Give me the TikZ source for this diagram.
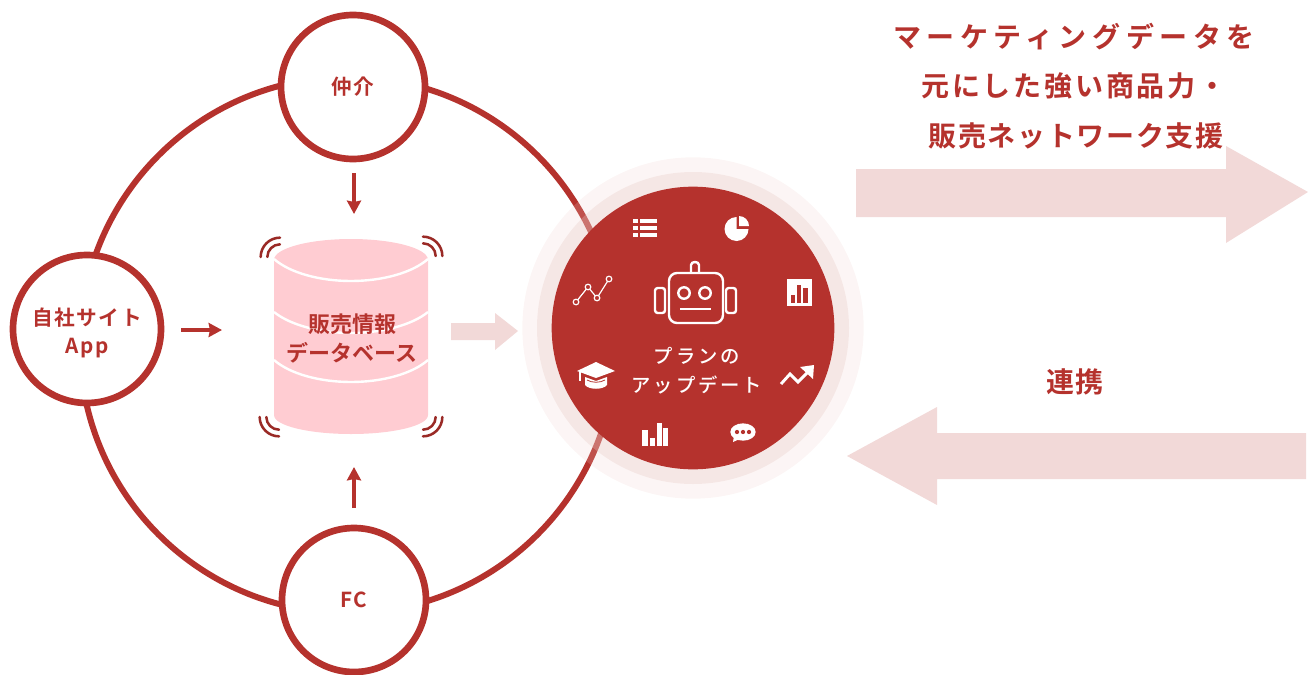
\documentclass[tikz,border=0pt]{standalone}
\usepackage{fontspec}
\setmainfont{Noto Sans CJK JP Medium}
\usetikzlibrary{arrows.meta}
\definecolor{brand}{HTML}{B5322D}
\definecolor{dbpink}{HTML}{FFCCD2}
\definecolor{palearrow}{HTML}{F2D9D8}
\definecolor{ringa}{HTML}{E7C5C3}
\definecolor{ringb}{HTML}{EFCFCB}
\newfontfamily\jpb{Noto Sans CJK JP Bold}
\newcommand{\sized}[1]{\fontsize{#1}{#1}\selectfont}
\tikzset{
 x=0.75pt,y=-0.75pt,
 ringline/.style={draw=brand,line width=4.5pt},
 member/.style={circle,draw=brand,line width=5pt,fill=white,minimum size=108pt,inner sep=0pt,align=center,text=brand,font=\jpb\sized{15.5}},
 small/.style={draw=brand,line width=2.4pt,-{Stealth[length=10pt,width=10.5pt,inset=1pt]}},
 wave/.style={draw=brand!85!black,line width=1.9pt,line cap=round},
 band/.style={draw=white,line width=1.8pt},
 wl/.style={draw=white,line width=1.8pt,line join=round},
 title/.style={text=brand,inner sep=0pt,font=\jpb\sized{21}},
}
\begin{document}
\begin{tikzpicture}
\useasboundingbox (0,0) rectangle (1308,674);
% large ring
\draw[ringline] (348,345) circle[radius=201pt];
% member nodes
\node[member] (chukai) at (353,87) {\addfontfeature{LetterSpace=4}仲介};
\node[member,minimum size=111pt] (jisha) at (87,329) {\addfontfeature{LetterSpace=8}\rule{0pt}{19pt}自社サイト\\[6pt]\addfontfeature{LetterSpace=8}App};
\node[member] (fc) at (354,600) {\addfontfeature{LetterSpace=8}FC};
% database
\path[fill=dbpink] (274,260) .. controls (274,248) and (310,239) .. (351,239) .. controls (392,239) and (428,248) .. (428,260)
  -- (428,415) .. controls (428,426) and (392,434) .. (351,434) .. controls (310,434) and (274,426) .. (274,415) -- cycle;
\draw[band] (274,259) .. controls (290,273) and (320,281) .. (351,281) .. controls (382,281) and (412,273) .. (428,259);
\draw[band] (274,312) .. controls (290,325) and (320,333) .. (351,333) .. controls (382,333) and (412,325) .. (428,312);
\draw[band] (274,360) .. controls (290,374) and (320,382) .. (351,382) .. controls (382,382) and (412,374) .. (428,360);
\node[text=brand,font=\jpb\sized{16.5},inner sep=0pt] (dblabela) at (352,324) {販売情報};
\node[text=brand,font=\jpb\sized{16.5},inner sep=0pt] (dblabelb) at (352,353) {データベース};
\foreach \cx/\cy/\sa in {280/257/90,423/256/0,279/417/180,423/417/270}{
  \draw[wave] (\cx,\cy) ++(\sa:14.5pt) arc[start angle=\sa,delta angle=90,radius=14.5pt];
  \draw[wave] (\cx,\cy) ++(\sa:9.5pt) arc[start angle=\sa,delta angle=90,radius=9.5pt];
}
% small arrows
\coordinate (ta) at (354,173); \coordinate (tb) at (354,214);
\coordinate (ba) at (354,508); \coordinate (bb) at (354,467);
\coordinate (la) at (181,330); \coordinate (lb) at (222,330);
\draw[small] (ta) -- (tb);
\draw[small] (ba) -- (bb);
\draw[small] (la) -- (lb);
% pale arrow db to plan
\path[fill=palearrow] (451,323) -- (495,323) -- (495,313) -- (518,331) -- (495,350) -- (495,340) -- (451,340) -- cycle;
% plan circle
\fill[ringb,opacity=.2] (693,328) circle[radius=128pt];
\fill[ringa,opacity=.3] (693,328) circle[radius=117pt];
\node[circle,fill=brand,minimum size=212pt,inner sep=0pt] (plan) at (693,328) {};
% robot
\draw[wl,rounded corners=6pt] (669,273) rectangle (723,323);
\draw[wl] (691,273) -- (691,265) .. controls (691,261) and (699,261) .. (699,265) -- (699,273);
\draw[wl,rounded corners=2pt] (655,288) rectangle (665,313);
\draw[wl,rounded corners=2pt] (726,288) rectangle (736,313);
\draw[wl] (684,293) circle[radius=4.3pt];
\draw[wl] (705,293) circle[radius=4.3pt];
\draw[wl,line width=2pt] (680,309) -- (711,309);
% list
\foreach \yy in {219,226,233}{
  \fill[white] (633,\yy) rectangle (638,\yy+4);
  \fill[white] (640,\yy) rectangle (657,\yy+4);
}
% pie
\fill[white] (736.5,229) -- (748.5,229) arc[start angle=0,delta angle=-270,radius=9pt] -- cycle;
\fill[white] (739,226) -- (739,216) arc[start angle=90,end angle=0,radius=7.5pt] -- cycle;
% bar box
\fill[white] (787,279) rectangle (812,306);
\fill[brand] (791,295) rectangle (795,303);
\fill[brand] (797,285) rectangle (801,303);
\fill[brand] (803,288) rectangle (808,303);
% trend arrow
\draw[white,line width=2.2pt,line join=miter] (781,384) -- (790,374) -- (798,382) -- (808,372);
\fill[white] (800,367) -- (814,365) -- (813,379) -- cycle;
% chat
\fill[white] (743,432) ellipse[x radius=9.5pt,y radius=6.5pt];
\fill[white] (734,436) -- (733,442) -- (742,438) -- cycle;
\foreach \xx in {737,743,749}{\fill[brand] (\xx,432) circle[radius=1.6pt];}
% bars
\fill[white] (642,430) rectangle (648,446);
\fill[white] (650,438) rectangle (655,446);
\fill[white] (657,423) rectangle (662,446);
\fill[white] (663,428) rectangle (668,446);
% cap
\fill[white] (577,371) -- (596,362) -- (615,371) -- (596,378) -- cycle;
\fill[white] (585,377) -- (596,381) -- (607,377) -- (607,385) .. controls (603,390) and (589,390) .. (585,385) -- cycle;
\draw[brand,line width=.6pt] (587,380) .. controls (592,383) and (600,383) .. (605,380);
\draw[white,line width=.8pt] (580,372) -- (580,381);
% line chart
\draw[white,line width=.9pt] (576,302) -- (588,287) -- (597,298) -- (609,279);
\foreach \xx/\yy in {576/302,588/287,597/298,609/279}{\draw[white,line width=.9pt,fill=brand] (\xx,\yy) circle[radius=2.1pt];}
% plan label
\node[text=white,inner sep=0pt,font=\sized{14.5}] (planl) at (697,356) {\addfontfeature{LetterSpace=15}プランの};
\node[text=white,inner sep=0pt,font=\sized{14.5}] (planm) at (697,385) {\addfontfeature{LetterSpace=15}アップデート};
% large arrows
\path[fill=palearrow] (856,169) -- (1226,169) -- (1226,146) -- (1308,192) -- (1226,243) -- (1226,217) -- (856,217) -- cycle;
\path[fill=palearrow] (847,456) -- (937,407) -- (937,433) -- (1306,433) -- (1306,479) -- (937,479) -- (937,505) -- cycle;
% titles
\node[title] (ta1) at (1074,37) {\addfontfeature{LetterSpace=20}マーケティングデータを};
\node[title] (ta2) at (1074,86) {\addfontfeature{LetterSpace=10}元にした強い商品力・};
\node[title] (ta3) at (1076,136) {\addfontfeature{LetterSpace=6}販売ネットワーク支援};
\node[title] (ta4) at (1075,382) {\addfontfeature{LetterSpace=3}連携};
\end{tikzpicture}
\end{document}
